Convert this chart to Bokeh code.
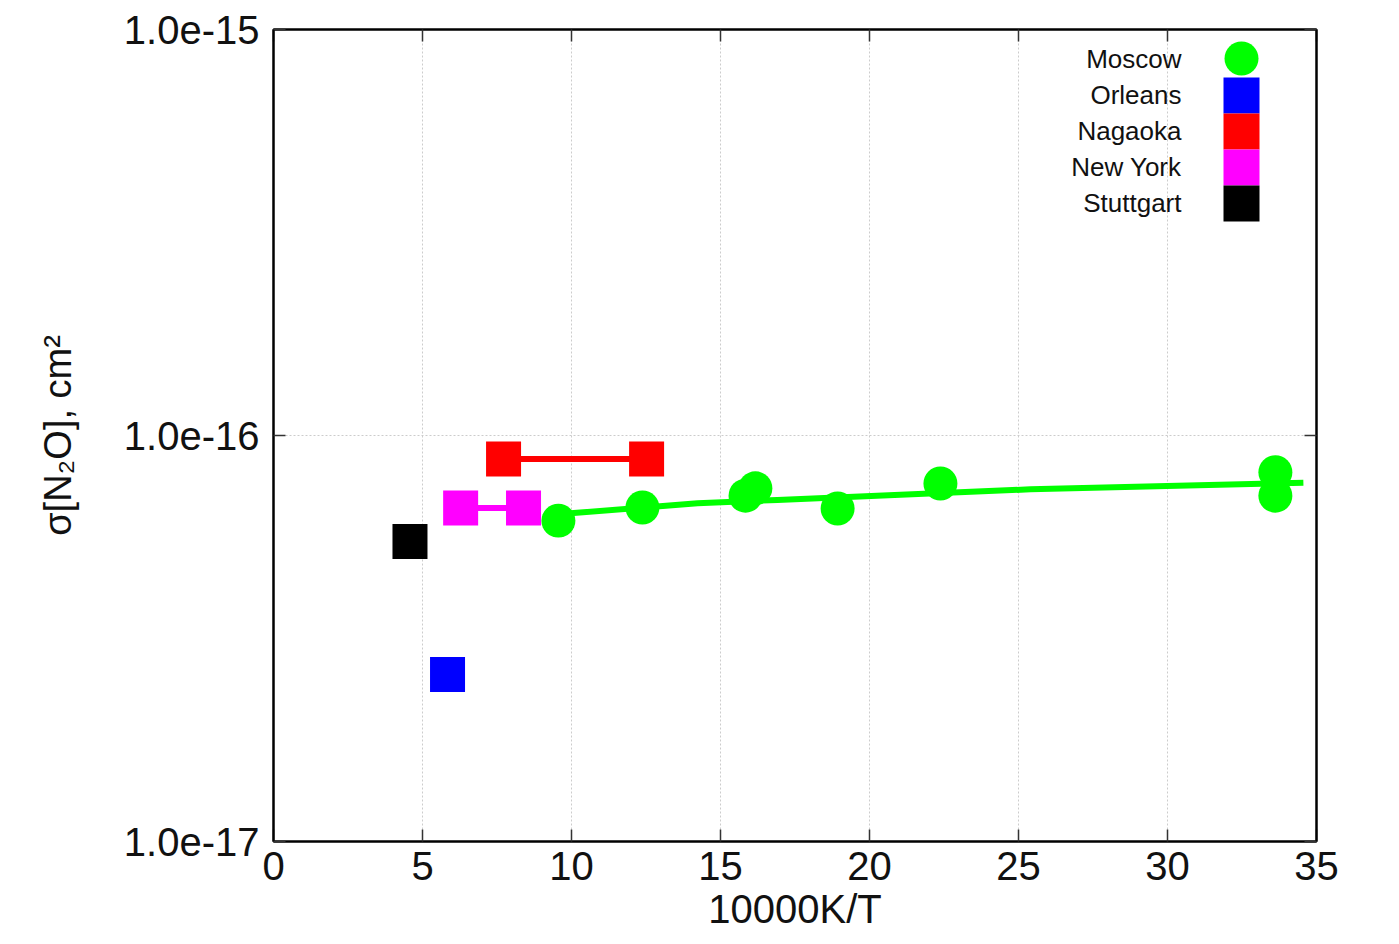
from bokeh.plotting import figure
from bokeh.models import (Range1d, LinearAxis, LogAxis, FixedTicker, PrintfTickFormatter,
                          CustomJSTickFormatter, Label)
from bokeh.embed import file_html
from bokeh.resources import INLINE

# ---------------- data ----------------
moscow_x = [9.56, 12.38, 15.84, 16.17, 18.93, 22.38, 33.62, 33.62]
moscow_y = [6.17e-17, 6.65e-17, 7.11e-17, 7.41e-17, 6.61e-17, 7.62e-17, 8.12e-17, 7.11e-17]
moscow_fit_x = [9.55, 10.07, 14.23, 16.91, 21.04, 25.40, 34.56]
moscow_fit_y = [6.39e-17, 6.44e-17, 6.81e-17, 6.94e-17, 7.15e-17, 7.37e-17, 7.65e-17]
orleans_x = [5.84]
orleans_y = [2.58e-17]
nagaoka_x = [7.72, 12.52]
nagaoka_y = [8.75e-17, 8.75e-17]
newyork_x = [6.28, 8.39]
newyork_y = [6.63e-17, 6.63e-17]
stuttgart_x = [4.58]
stuttgart_y = [5.48e-17]

series_names = ["Moscow", "Orleans", "Nagaoka", "New York", "Stuttgart"]
series_colors = ["#00ff00", "#0000ff", "#ff0000", "#ff00ff", "#000000"]
series_markers = ["circle", "square", "square", "square", "square"]

x_ticks = [0, 5, 10, 15, 20, 25, 30, 35]
y_ticks = [1e-17, 1e-16, 1e-15]
x_label = "10000K/T"
y_label = "σ[N₂O], cm²"

# ---------------- layout ----------------
W, H = 1399, 944
FL, FT, FW, FH = 273, 29, 1043, 812
X0, X1 = 0, 35
LOG_BOT, LOG_TOP = -17, -15
FONT = "Liberation Sans"


def px_to_x(px):
    """page pixel x -> data x (legend key placement only)"""
    return X0 + (px - FL) / FW * (X1 - X0)


def py_to_y(py):
    """page pixel y -> data y on the log axis (legend key placement only)"""
    return 10 ** (LOG_TOP - (py - FT) / FH * (LOG_TOP - LOG_BOT))


def sx(px):
    """page x -> screen units (frame relative)"""
    return px - FL


def sy(py):
    """page y -> screen units (frame relative, measured upward from frame bottom)"""
    return (FT + FH) - py


p = figure(width=W, height=H, x_range=Range1d(X0, X1),
           y_range=Range1d(10 ** LOG_BOT, 10 ** LOG_TOP), y_axis_type="log",
           output_backend="svg", toolbar_location=None,
           min_border_left=FL, min_border_top=FT,
           min_border_right=W - FL - FW, min_border_bottom=H - FT - FH)
p.background_fill_color = "white"
p.border_fill_color = "white"
p.outline_line_color = "black"
p.outline_line_width = 2

# axes
xa = p.xaxis[0]
xa.ticker = FixedTicker(ticks=x_ticks, minor_ticks=[])
ya = p.yaxis[0]
ya.ticker = FixedTicker(ticks=y_ticks, minor_ticks=[])
ya.formatter = PrintfTickFormatter(format="%.1e")
for ax in (xa, ya):
    ax.axis_line_color = "black"
    ax.axis_line_width = 2
    ax.major_tick_in = 12
    ax.major_tick_out = 0
    ax.minor_tick_line_color = None
    ax.major_tick_line_color = "#333333"
    ax.major_tick_line_width = 1.5
    ax.major_label_text_font = FONT
    ax.major_label_text_font_size = "40px"
    ax.major_label_text_color = "#111111"
    ax.axis_label_text_font = FONT
    ax.axis_label_text_font_style = "normal"
    ax.axis_label_text_color = "#111111"
xa.major_label_standoff = 10
ya.major_label_standoff = 14
xa.axis_label = x_label
xa.axis_label_text_font_size = "40px"
xa.axis_label_standoff = 4
ya.axis_label = y_label
ya.axis_label_text_font_size = "38px"
ya.axis_label_standoff = 42

top_ax = LinearAxis(ticker=FixedTicker(ticks=x_ticks, minor_ticks=[]),
                    formatter=CustomJSTickFormatter(code="return ''"))
right_ax = LogAxis(ticker=FixedTicker(ticks=y_ticks, minor_ticks=[]),
                   formatter=CustomJSTickFormatter(code="return ''"))
for ax in (top_ax, right_ax):
    ax.axis_line_color = "black"
    ax.axis_line_width = 2
    ax.major_tick_in = 12
    ax.major_tick_out = 0
    ax.minor_tick_line_color = None
    ax.major_tick_line_color = "#333333"
    ax.major_tick_line_width = 1.5
    ax.major_label_text_font_size = "0px"
    ax.major_label_standoff = 0
p.add_layout(top_ax, "above")
p.add_layout(right_ax, "right")

# grid
p.xgrid.ticker = FixedTicker(ticks=x_ticks, minor_ticks=[])
p.ygrid.ticker = FixedTicker(ticks=y_ticks, minor_ticks=[])
for g in (p.xgrid[0], p.ygrid[0]):
    g.grid_line_color = "#cccccc"
    g.grid_line_width = 1
    g.grid_line_dash = "2 2"

# ---------------- data marks ----------------
p.line(newyork_x, newyork_y, line_color=series_colors[3], line_width=6)
p.scatter(newyork_x, newyork_y, marker="square", size=35, fill_color=series_colors[3], line_color=None)
p.line(nagaoka_x, nagaoka_y, line_color=series_colors[2], line_width=6)
p.scatter(nagaoka_x, nagaoka_y, marker="square", size=35, fill_color=series_colors[2], line_color=None)
p.scatter(orleans_x, orleans_y, marker="square", size=35, fill_color=series_colors[1], line_color=None)
p.scatter(stuttgart_x, stuttgart_y, marker="square", size=35, fill_color=series_colors[4], line_color=None)
p.line(moscow_fit_x, moscow_fit_y, line_color=series_colors[0], line_width=6)
p.scatter(moscow_x, moscow_y, marker="circle", size=34, fill_color=series_colors[0], line_color=None)

# ---------------- legend (keys on the right, labels right-aligned) ----------------
legend_rows_py = [58, 94, 130, 166, 202]
for name, col, mk, py in zip(series_names, series_colors, series_markers, legend_rows_py):
    p.add_layout(Label(x=sx(1181), y=sy(py), x_units="screen", y_units="screen", text=name,
                       text_align="right", text_baseline="middle", text_font=FONT,
                       text_font_size="26px", text_color="#111111"))
    key_py = py + (0 if mk == "circle" else 1)
    p.scatter([px_to_x(1241)], [py_to_y(key_py)], marker=mk,
              size=34 if mk == "circle" else 36, fill_color=col, line_color=None)

open("out.html", "w").write(file_html(p, INLINE))
